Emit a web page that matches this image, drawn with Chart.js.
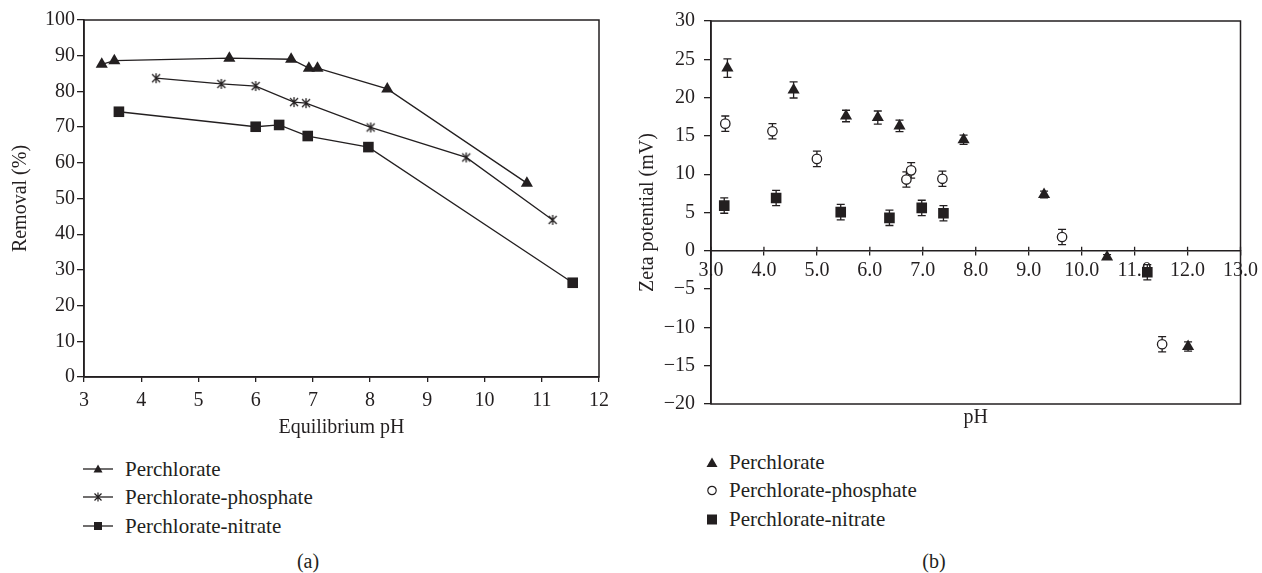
<!DOCTYPE html>
<html>
<head>
<meta charset="utf-8">
<script src="https://cdn.jsdelivr.net/npm/chart.js@4.4.0/dist/chart.umd.min.js"></script>
<style>
  body { margin: 0; background: #fff; }
  #page { position: relative; width: 1262px; height: 573px; overflow: hidden;
          font-family: 'Liberation Serif', serif; color: #231f20; }
  canvas { position: absolute; top: 0; }
  .legend-row { position: absolute; display: flex; align-items: center; height: 24px;
                font-size: 21px; line-height: 24px; white-space: nowrap; }
  .caption { position: absolute; font-size: 20px; transform: translate(-50%, -50%); }
</style>
</head>
<body>
<div id="page">
  <canvas id="removal" width="620" height="445" style="left:0"></canvas>
  <canvas id="zeta" width="642" height="445" style="left:620px"></canvas>
  <div id="legendA"></div>
  <div id="legendB"></div>
  <div class="caption" style="left:308px;top:561px">(a)</div>
  <div class="caption" style="left:934px;top:561px">(b)</div>
</div>
<script>
const seriesNames = ['Perchlorate', 'Perchlorate-phosphate', 'Perchlorate-nitrate'];

// (a) removal vs equilibrium pH
const removalXTicks = [3, 4, 5, 6, 7, 8, 9, 10, 11, 12];
const removalYTicks = [0, 10, 20, 30, 40, 50, 60, 70, 80, 90, 100];
const perchlorateRemovalPH = [3.31, 3.53, 5.54, 6.62, 6.93, 7.08, 8.30, 10.74];
const perchlorateRemoval   = [87.6, 88.6, 89.3, 89.0, 86.5, 86.5, 80.7, 54.3];
const phosphateRemovalPH   = [4.26, 5.40, 6.00, 6.67, 6.88, 8.01, 9.68, 11.19];
const phosphateRemoval     = [83.7, 82.1, 81.5, 77.0, 76.7, 69.9, 61.5, 44.0];
const nitrateRemovalPH     = [3.61, 6.00, 6.41, 6.91, 7.97, 11.54];
const nitrateRemoval       = [74.3, 70.1, 70.6, 67.5, 64.4, 26.4];

// (b) zeta potential vs pH
const zetaXTicks = [3, 4, 5, 6, 7, 8, 9, 10, 11, 12, 13];
const zetaYTicks = [-20, -15, -10, -5, 0, 5, 10, 15, 20, 25, 30];
const perchlorateZetaPH  = [3.31, 4.56, 5.55, 6.15, 6.56, 7.77, 9.29, 10.48, 12.01];
const perchlorateZeta    = [23.85, 21.0, 17.6, 17.4, 16.3, 14.5, 7.35, -0.8, -12.5];
const perchlorateZetaErr = [1.2, 1.05, 0.75, 0.85, 0.75, 0.6, 0.45, 0.3, 0.6];
const phosphateZetaPH    = [3.27, 4.16, 5.00, 6.69, 6.78, 7.37, 9.63, 11.52];
const phosphateZeta      = [16.6, 15.6, 12.0, 9.3, 10.5, 9.4, 1.8, -12.2];
const phosphateZetaErr   = [1.0, 1.0, 1.0, 1.0, 1.0, 1.0, 1.0, 1.0];
const nitrateZetaPH      = [3.25, 4.23, 5.45, 6.37, 6.98, 7.39, 11.24];
const nitrateZeta        = [5.9, 6.9, 5.05, 4.3, 5.6, 4.9, -2.8];
const nitrateZetaErr     = [1.0, 1.0, 1.0, 1.0, 1.0, 1.0, 1.0];

const INK = '#231f20';
const FONT = 'Liberation Serif';

Chart.defaults.font.family = FONT;
Chart.defaults.font.size = 20;
Chart.defaults.color = INK;

const toPoints = (xs, ys) => xs.map((x, i) => ({ x: x, y: ys[i] }));
const fixTicks = values => scale => { scale.ticks = values.map(v => ({ value: v })); };
const minus = v => (v < 0 ? '\u2212' + Math.abs(v) : String(v));

function makeStar(size) {
  const c = document.createElement('canvas');
  c.width = size; c.height = size;
  const g = c.getContext('2d');
  g.strokeStyle = INK;
  g.lineWidth = 1.3;
  const h = size / 2, r = size / 2 - 1, d = r * 0.8;
  g.beginPath();
  g.moveTo(h, h - r); g.lineTo(h, h + r);
  g.moveTo(h - d, h - d); g.lineTo(h + d, h + d);
  g.moveTo(h + d, h - d); g.lineTo(h - d, h + d);
  g.stroke();
  return c;
}

const frame = {
  id: 'frame',
  afterDraw(chart) {
    const { ctx, chartArea: a } = chart;
    ctx.save();
    ctx.strokeStyle = INK;
    ctx.lineWidth = 1.5;
    ctx.strokeRect(a.left, a.top, a.right - a.left, a.bottom - a.top);
    ctx.restore();
  }
};

const errorBars = {
  id: 'errorBars',
  beforeDatasetsDraw(chart) {
    const { ctx, scales: { x, y } } = chart;
    ctx.save();
    ctx.strokeStyle = INK;
    ctx.lineWidth = 1.3;
    chart.data.datasets.forEach(ds => {
      (ds.errors || []).forEach((e, i) => {
        const p = ds.data[i];
        const px = x.getPixelForValue(p.x);
        const top = y.getPixelForValue(p.y + e);
        const bot = y.getPixelForValue(p.y - e);
        ctx.beginPath();
        ctx.moveTo(px, top); ctx.lineTo(px, bot);
        ctx.moveTo(px - 4, top); ctx.lineTo(px + 4, top);
        ctx.moveTo(px - 4, bot); ctx.lineTo(px + 4, bot);
        ctx.stroke();
      });
    });
    ctx.restore();
  }
};

// x axis of (b) sits on y = 0 and its ticks cross the line
const crossTicks = {
  id: 'crossTicks',
  afterDraw(chart) {
    const { ctx, scales: { x, y } } = chart;
    const y0 = y.getPixelForValue(0);
    ctx.save();
    ctx.strokeStyle = INK;
    ctx.lineWidth = 1.3;
    ctx.beginPath();
    x.ticks.forEach(t => {
      const px = x.getPixelForValue(t.value);
      ctx.moveTo(px, y0 - 4); ctx.lineTo(px, y0);
    });
    ctx.stroke();
    ctx.restore();
  }
};

const tickGrid = len => ({ display: true, drawOnChartArea: false, drawTicks: true,
                           tickLength: len, color: INK, lineWidth: 1.3 });

new Chart(document.getElementById('removal'), {
  type: 'scatter',
  data: {
    datasets: [
      { label: seriesNames[0], data: toPoints(perchlorateRemovalPH, perchlorateRemoval),
        pointStyle: 'triangle', pointRadius: 7, backgroundColor: INK, borderColor: INK },
      { label: seriesNames[1], data: toPoints(phosphateRemovalPH, phosphateRemoval),
        pointStyle: makeStar(12), pointRadius: 6, backgroundColor: INK, borderColor: INK },
      { label: seriesNames[2], data: toPoints(nitrateRemovalPH, nitrateRemoval),
        pointStyle: 'rect', pointRadius: 7.5, backgroundColor: INK, borderColor: INK }
    ].map(ds => Object.assign(ds, { showLine: true, borderWidth: 1.3, pointBorderWidth: 0 }))
  },
  options: {
    responsive: false, animation: false, devicePixelRatio: 1,
    layout: { padding: { left: 0, top: 20, right: 21, bottom: 0 } },
    plugins: { legend: { display: false }, tooltip: { enabled: false } },
    scales: {
      x: {
        type: 'linear', min: 3, max: 12,
        afterBuildTicks: fixTicks(removalXTicks),
        afterFit: s => { s.height = 68; },
        grid: tickGrid(5),
        border: { color: INK, width: 1.5 },
        ticks: { padding: 7 },
        title: { display: true, text: 'Equilibrium pH', padding: { top: 0, bottom: 5 } }
      },
      y: {
        type: 'linear', min: 0, max: 100,
        afterBuildTicks: fixTicks(removalYTicks),
        afterFit: s => { s.width = 84; },
        grid: tickGrid(7),
        border: { color: INK, width: 1.5 },
        ticks: { padding: 2 },
        title: { display: true, text: 'Removal (%)', padding: { top: 9, bottom: 0 } }
      }
    }
  },
  plugins: [frame]
});

new Chart(document.getElementById('zeta'), {
  type: 'scatter',
  data: {
    datasets: [
      { label: seriesNames[0], data: toPoints(perchlorateZetaPH, perchlorateZeta), errors: perchlorateZetaErr,
        pointStyle: 'triangle', pointRadius: 7, backgroundColor: INK, borderColor: INK, pointBorderWidth: 0 },
      { label: seriesNames[1], data: toPoints(phosphateZetaPH, phosphateZeta), errors: phosphateZetaErr,
        pointStyle: 'circle', pointRadius: 4.7, backgroundColor: '#fff', borderColor: INK, pointBorderWidth: 1.3 },
      { label: seriesNames[2], data: toPoints(nitrateZetaPH, nitrateZeta), errors: nitrateZetaErr,
        pointStyle: 'rect', pointRadius: 7.5, backgroundColor: INK, borderColor: INK, pointBorderWidth: 0 }
    ]
  },
  options: {
    responsive: false, animation: false, devicePixelRatio: 1,
    layout: { padding: { left: 0, top: 20, right: 19, bottom: 15 } },
    plugins: {
      legend: { display: false }, tooltip: { enabled: false },
      title: { display: true, text: 'pH', position: 'bottom', fullSize: false, color: INK,
               font: { family: FONT, size: 20, weight: 'normal' }, padding: { top: 2, bottom: 0 } }
    },
    scales: {
      x: {
        type: 'linear', min: 3, max: 13, position: { y: 0 },
        afterBuildTicks: fixTicks(zetaXTicks),
        grid: tickGrid(4),
        border: { color: INK, width: 1.5 },
        ticks: { padding: 4, callback: v => v.toFixed(1) }
      },
      y: {
        type: 'linear', min: -20, max: 30,
        afterBuildTicks: fixTicks(zetaYTicks),
        afterFit: s => { s.width = 91; },
        grid: tickGrid(7),
        border: { color: INK, width: 1.5 },
        ticks: { padding: 9, callback: v => minus(v) },
        title: { display: true, text: 'Zeta potential (mV)', padding: { top: 16, bottom: 0 } }
      }
    }
  },
  plugins: [frame, errorBars, crossTicks]
});

// legends
const lineSymbols = [
  '<polygon points="15,2.5 19.5,10.5 10.5,10.5" fill="' + INK + '"/>',
  '<path d="M15 2.5V11.5M11.5 3.5L18.5 10.5M18.5 3.5L11.5 10.5" stroke="' + INK + '" stroke-width="1.2"/>',
  '<rect x="11" y="3" width="8" height="8" fill="' + INK + '"/>'
];
const markSymbols = [
  '<polygon points="6,1.5 11.5,11 0.5,11" fill="' + INK + '"/>',
  '<circle cx="6" cy="6.5" r="4.2" fill="#fff" stroke="' + INK + '" stroke-width="1.2"/>',
  '<rect x="1" y="1.5" width="10" height="10" fill="' + INK + '"/>'
];
const legendARows = [469, 497, 526];
const legendBRows = [462, 490, 519];

document.getElementById('legendA').innerHTML = seriesNames.map((name, i) =>
  '<div class="legend-row" style="left:83px;top:' + (legendARows[i] - 12) + 'px">' +
  '<svg width="30" height="14" style="margin-right:12px">' +
  '<line x1="0" y1="7" x2="30" y2="7" stroke="' + INK + '" stroke-width="1.3"/>' + lineSymbols[i] +
  '</svg>' + name + '</div>').join('');

document.getElementById('legendB').innerHTML = seriesNames.map((name, i) =>
  '<div class="legend-row" style="left:706px;top:' + (legendBRows[i] - 12) + 'px">' +
  '<svg width="12" height="13" style="margin-right:11px">' + markSymbols[i] + '</svg>' +
  name + '</div>').join('');
</script>
</body>
</html>
